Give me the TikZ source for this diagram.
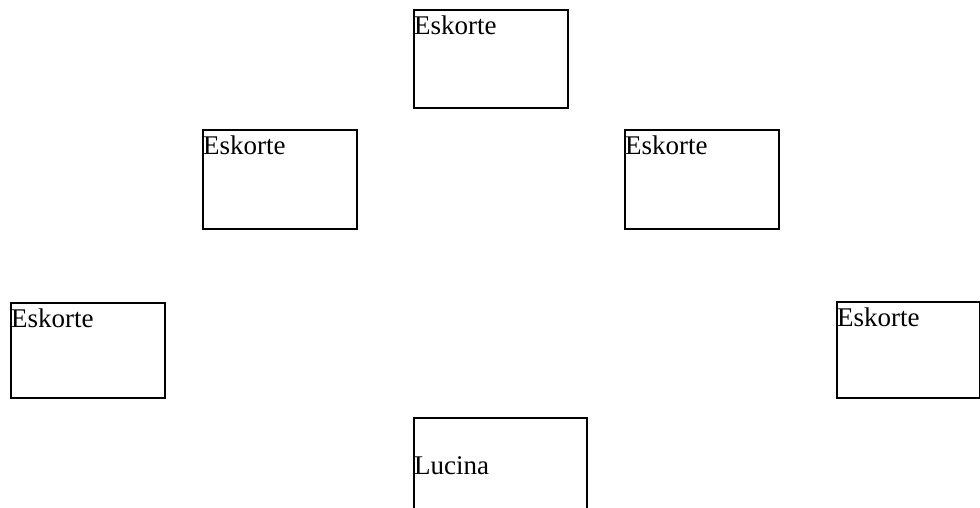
\documentclass[tikz,border=0pt]{standalone}
\usepackage{fontspec}
\setmainfont{Liberation Serif}
\usetikzlibrary{calc}
\tikzset{
  box/.style={draw=black, line width=1.6pt, fill=none, inner sep=0pt, anchor=north west, minimum width=154pt},
  lbl/.style={inner sep=0pt, anchor=base west, font=\fontsize{27}{30}\selectfont, text=black}
}
\begin{document}
\begin{tikzpicture}[x=1pt,y=-1pt]
\useasboundingbox (0,0) rectangle (980,508);
\clip (0,0) rectangle (980,508);
\node[box, minimum height=98pt] (top) at (413,9) {};
\node[lbl] (ttop) at ($(top.north west)+(1,26)$) {Eskorte};
\node[box, minimum height=99pt] (ml) at (202,129) {};
\node[lbl] (tml) at ($(ml.north west)+(1,25)$) {Eskorte};
\node[box, minimum height=99pt] (mr) at (624,129) {};
\node[lbl] (tmr) at ($(mr.north west)+(1,25)$) {Eskorte};
\node[box, minimum height=95pt] (fl) at (10,302) {};
\node[lbl] (tfl) at ($(fl.north west)+(1,25)$) {Eskorte};
\node[box, minimum height=96pt, minimum width=143pt] (fr) at (836,301) {};
\node[lbl] (tfr) at ($(fr.north west)+(1,25)$) {Eskorte};
\node[box, minimum height=130pt, minimum width=173pt] (bot) at (413,417) {};
\node[lbl] (tbot) at ($(bot.north west)+(1,57)$) {Lucina};
\end{tikzpicture}
\end{document}
